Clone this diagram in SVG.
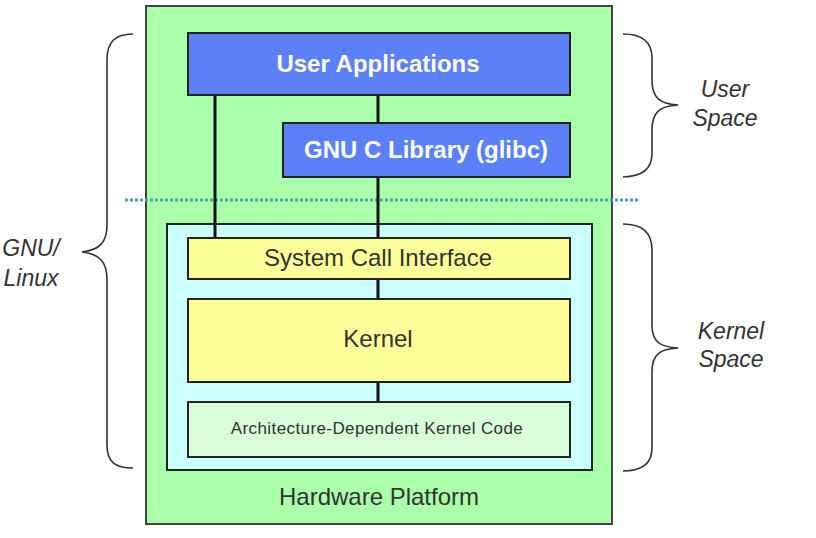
<svg xmlns="http://www.w3.org/2000/svg" width="816" height="538" viewBox="0 0 816 538">
<style>
.box{stroke:#222;stroke-width:2}
.t{font-family:"Liberation Sans",Arial,sans-serif;text-anchor:middle}
.w{fill:#fff;font-weight:bold;font-size:24px}
.d{fill:#333;font-size:24px}
.i{fill:#333;font-size:23px;font-style:italic}
.conn{stroke:#111;stroke-width:3;fill:none}
.brace{stroke:#333;stroke-width:1.6;fill:none}
</style>
<rect width="816" height="538" fill="#fff"/>
<g id="hardware">
<rect x="146" y="6" width="466" height="518" fill="#aaffaa" stroke="#444" stroke-width="2"/>
<text class="t d" x="379" y="505">Hardware Platform</text>
</g>
<line x1="125" y1="200" x2="638" y2="200" stroke="#4aa8a8" stroke-width="3" stroke-dasharray="3,2"/>
<g id="kernel-space">
<rect x="167" y="224" width="425" height="246" fill="#ccffff" class="box"/>
</g>
<g id="connectors">
<line class="conn" x1="215" y1="95" x2="215" y2="238"/>
<line class="conn" x1="378" y1="95" x2="378" y2="123"/>
<line class="conn" x1="378" y1="177" x2="378" y2="238"/>
<line class="conn" x1="378" y1="279" x2="378" y2="299"/>
<line class="conn" x1="378" y1="382" x2="378" y2="402"/>
</g>
<g id="user-apps">
<rect x="188" y="33" width="382" height="62" fill="#5b80f7" class="box"/>
<text class="t w" x="378" y="72">User Applications</text>
</g>
<g id="glibc">
<rect x="283" y="123" width="287" height="54" fill="#5b80f7" class="box"/>
<text class="t w" x="426" y="158">GNU C Library (glibc)</text>
</g>
<g id="sci">
<rect x="188" y="238" width="382" height="41" fill="#ffff99" class="box"/>
<text class="t d" x="378" y="266">System Call Interface</text>
</g>
<g id="kernel">
<rect x="188" y="299" width="382" height="83" fill="#ffff99" class="box"/>
<text class="t d" x="378" y="347">Kernel</text>
</g>
<g id="arch">
<rect x="188" y="402" width="382" height="55" fill="#d9fcd9" class="box"/>
<text class="t" x="377" y="434" fill="#333" font-size="17px" letter-spacing="0.4">Architecture-Dependent Kernel Code</text>
</g>
<g id="gnu-linux">
<path class="brace" d="M133,34 C115,34 107,42 107,60 L107,225 C107,242 100,250 82,252 C100,254 107,262 107,280 L107,445 C107,462 115,468 133,468"/>
<text class="t i" x="31" y="256">GNU/</text>
<text class="t i" x="31" y="286">Linux</text>
</g>
<g id="user-space">
<path class="brace" d="M623,34 C642,34 652,42 652,58 L652,80 C652,98 660,104 678,105 C660,106 652,112 652,130 L652,153 C652,170 642,176 623,177"/>
<text class="t i" x="725" y="97">User</text>
<text class="t i" x="725" y="126">Space</text>
</g>
<g id="kernel-space-label">
<path class="brace" d="M623,224 C642,224 652,232 652,250 L652,325 C652,342 660,347 678,348 C660,349 652,354 652,372 L652,448 C652,464 642,471 623,471"/>
<text class="t i" x="731" y="339">Kernel</text>
<text class="t i" x="731" y="367">Space</text>
</g>
</svg>
